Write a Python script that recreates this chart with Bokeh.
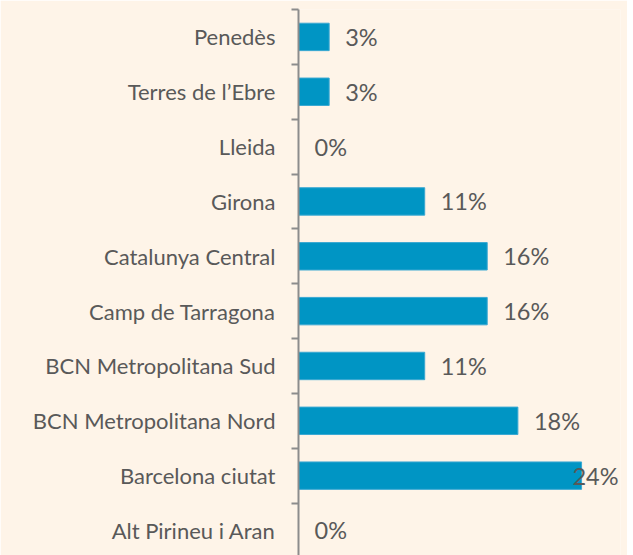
from bokeh.plotting import figure
from bokeh.models import FixedTicker, ColumnDataSource, Range1d
from bokeh.core.properties import value
from bokeh.embed import file_html
from bokeh.resources import INLINE

categories = ["Alt Pirineu i Aran", "Barcelona ciutat", "BCN Metropolitana Nord",
              "BCN Metropolitana Sud", "Camp de Tarragona", "Catalunya Central",
              "Girona", "Lleida", "Terres de l\u2019Ebre", "Pened\u00e8s"]
values = [0.0, 24.0, 18.6, 10.7, 16.0, 16.0, 10.7, 0.0, 2.6, 2.6]
value_labels = ["0%", "24%", "18%", "11%", "16%", "16%", "11%", "0%", "3%", "3%"]

BG = "#FEF4E8"
BAR = "#0095C4"
FONT = "Lato"

x_end = 27.3
n = len(categories)
ys = list(range(n))

# label placement: to the right of the bar; if it would overflow, right-align at edge
label_x = []
align = []
offs = []
for v in values:
    if v > 22:
        label_x.append(x_end)
        align.append("right")
        offs.append(-2)
    else:
        label_x.append(v)
        align.append("left")
        offs.append(16)

src = ColumnDataSource(dict(y=ys, v=values, lab=value_labels, lx=label_x, al=align, off=offs))

p = figure(width=627, height=555, output_backend="svg", toolbar_location=None,
           x_range=Range1d(0, x_end), y_range=Range1d(-0.456, n - 0.5),
           min_border_left=298, min_border_right=7, min_border_top=9, min_border_bottom=0)
p.background_fill_color = BG
p.border_fill_color = BG
p.outline_line_color = None
p.grid.visible = False
p.xaxis.visible = False

p.hbar(y="y", right="v", left=0, height=0.5, source=src,
       fill_color=BAR, line_color="#3AA8D2", line_width=1)

p.text(x="lx", y="y", text="lab", source=src, text_align="al", x_offset="off",
       text_baseline="middle", text_font=value(FONT), text_font_size="23.5px",
       text_color="#595959")

ax = p.yaxis[0]
ticker = FixedTicker(ticks=ys, minor_ticks=[i + 0.5 for i in range(-1, n)])
ax.ticker = ticker
ax.major_label_overrides = {i: c for i, c in enumerate(categories)}
ax.major_tick_in = 0
ax.major_tick_out = 0
ax.minor_tick_in = 0
ax.minor_tick_out = 7
ax.minor_tick_line_color = "#8C8C8C"
ax.minor_tick_line_width = 2
ax.axis_line_color = "#8C8C8C"
ax.axis_line_width = 2
ax.major_label_standoff = 16
ax.major_label_text_font = FONT
ax.major_label_text_font_size = "22px"
ax.major_label_text_color = "#595959"

open("out.html", "w").write(file_html(p, INLINE))
